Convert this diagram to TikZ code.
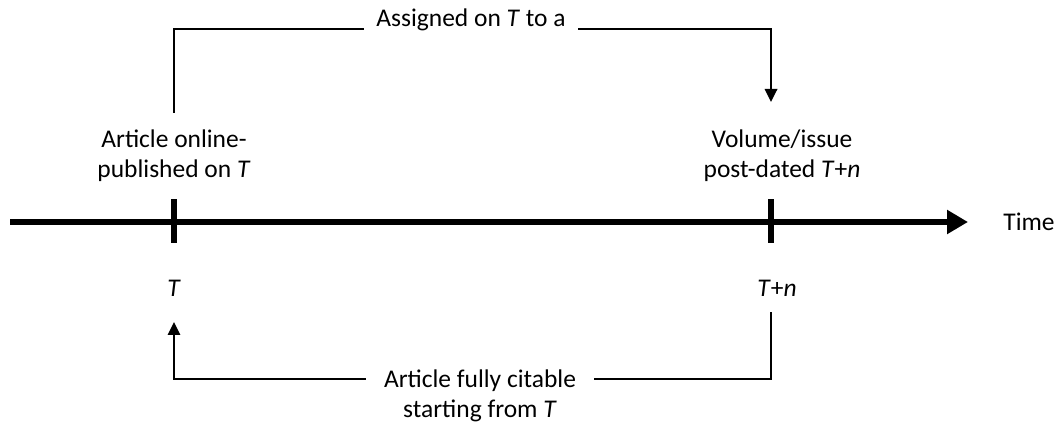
\documentclass[tikz,border=0pt]{standalone}
\usepackage{fontspec}
\setmainfont{Carlito}
\usetikzlibrary{arrows.meta, positioning}
\tikzset{lbl/.style={font=\fontsize{14.5}{17}\selectfont, align=center, inner sep=1pt},
  tickbar/.style={fill, inner sep=0pt, minimum width=0.13cm, minimum height=0.88cm},
  conn/.style={line width=1pt, -{Triangle[length=0.26cm, width=0.25cm]}}}

\begin{document}
\begin{tikzpicture}[x=0.02cm, y=-0.02cm]
    \useasboundingbox (0,0) rectangle (1057,425);

    % time axis
    \coordinate (axis-start) at (10,222);
    \coordinate (axis-end) at (968,222);
    \draw[line width=3.6pt, -{Triangle[length=0.42cm, width=0.46cm]}] (axis-start) -- (axis-end);
    \node[lbl] (time) at (1029,222) {Time};

    \node[tickbar] (tick-T) at (174,221) {};
    \node[tickbar] (tick-Tn) at (771,221) {};

    \node[lbl] (online) at (174,156) {Article online-\\published on \textit{T}};
    \node[lbl] (volume) at (782,156) {Volume/issue\\post-dated \textit{T}+\textit{n}};

    \node[lbl] (T) at (174,288) {\textit{T}};
    \node[lbl] (Tn) at (777,288) {\textit{T}+\textit{n}};

    % connectors
    \coordinate (up-start) at (174,113);
    \coordinate (up-end) at (771,102);
    \draw[conn] (up-start) -- ++(0,-84) -| (up-end);
    \node[lbl, fill=white, inner xsep=7pt] (assigned) at (471,20) {Assigned on \textit{T} to a};

    \coordinate (down-start) at (771,312);
    \coordinate (down-end) at (174,322);
    \draw[conn] (down-start) -- ++(0,67) -| (down-end);
    \node[lbl, fill=white, inner xsep=10pt] (citable) at (480,396) {Article fully citable\\starting from \textit{T}};
\end{tikzpicture}
\end{document}
